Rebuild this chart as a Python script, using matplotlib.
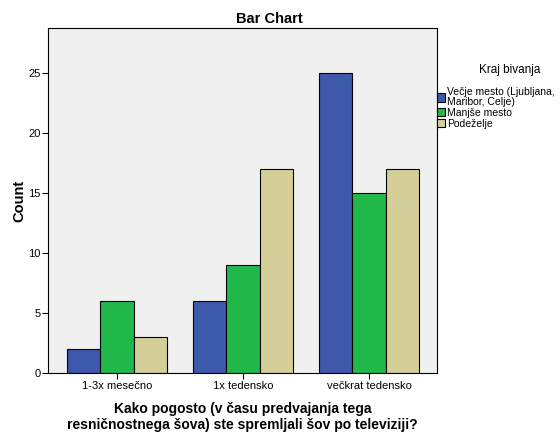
import matplotlib
matplotlib.use("Agg")
import matplotlib.pyplot as plt
import numpy as np
from matplotlib.patches import Patch

plt.rcParams['font.family'] = ['Liberation Sans', 'DejaVu Sans']

categories = ["1-3x mesečno", "1x tedensko", "večkrat tedensko"]
series_names = ["Večje mesto (Ljubljana,\nMaribor, Celje)", "Manjše mesto", "Podeželje"]
vecje_mesto = [2, 6, 25]
manjse_mesto = [6, 9, 15]
podezelje = [3, 17, 17]
yticks = [0, 5, 10, 15, 20, 25]
colors = ["#3E58AC", "#21B84A", "#D4CF98"]

fig = plt.figure(figsize=(5.6, 4.32), dpi=100)
ax = fig.add_axes([48/560, 1 - 373/432, 389/560, 345/432])
ax.set_facecolor("#F0F0F0")

x = np.arange(len(categories))
w = 0.266
for i, (vals, c) in enumerate(zip([vecje_mesto, manjse_mesto, podezelje], colors)):
    ax.bar(x + (i - 1) * w, vals, width=w, color=c, edgecolor="black", linewidth=0.8, zorder=2)

ax.set_xlim(-0.548, 2.54)
ax.set_ylim(0, 28.75)
ax.set_yticks(yticks)
ax.set_xticks(x)
ax.set_xticklabels(categories)
ax.tick_params(axis='both', labelsize=8, direction='out', length=4, width=0.8, colors='black')
ax.tick_params(axis='x', pad=1.5)
ax.tick_params(axis='y', pad=1.5)
for s in ax.spines.values():
    s.set_linewidth(0.8)

ax.set_ylabel("Count", fontsize=10.5, fontweight='bold', labelpad=1)
ax.set_xlabel("Kako pogosto (v času predvajanja tega\nresničnostnega šova) ste spremljali šov po televiziji?",
              fontsize=10, fontweight='bold', linespacing=1.2, labelpad=8)
fig.text(269/560, 1 - 19/432, "Bar Chart", ha='center', va='center', fontsize=10.5, fontweight='bold')

fig.text(510/560, 1 - 70/432, "Kraj bivanja", ha='center', va='center', fontsize=8.5)
handles = [Patch(facecolor=c, edgecolor='black', linewidth=0.8) for c in colors]
leg = fig.legend(handles, series_names, loc='upper left',
                 bbox_to_anchor=(437/560, 1 - 87/432), frameon=False, fontsize=7.5,
                 handlelength=0.75, handleheight=0.9,
                 handletextpad=0.2, labelspacing=0.1, borderaxespad=0, borderpad=0)
for t in leg.get_texts():
    t.set_linespacing(0.95)

fig.savefig("out.png", dpi=100)
